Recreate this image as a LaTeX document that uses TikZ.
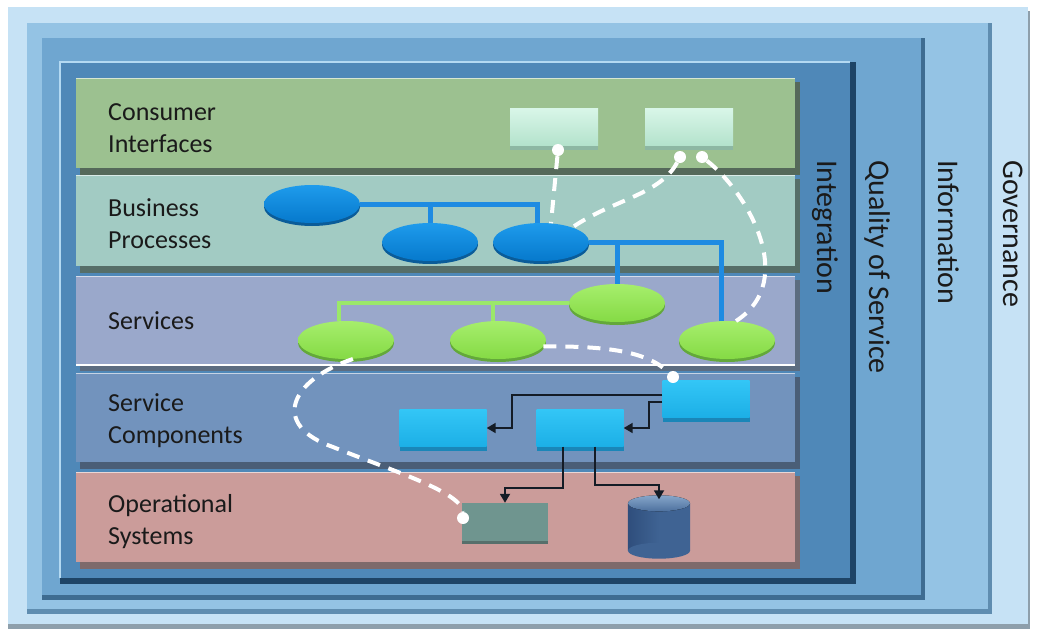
\documentclass[tikz,border=0pt]{standalone}
\usepackage{fontspec}
\setmainfont{Carlito}
\usetikzlibrary{shapes.geometric,arrows.meta,shadows}

\definecolor{govfill}{HTML}{C6E2F5}
\definecolor{govshd}{HTML}{8E9FAB}
\definecolor{inffill}{HTML}{94C3E4}
\definecolor{infshd}{HTML}{5F8DB0}
\definecolor{qosfill}{HTML}{6FA6D0}
\definecolor{qosshd}{HTML}{3E6C91}
\definecolor{intfill}{HTML}{4F88B8}
\definecolor{intshd}{HTML}{1E4466}
\definecolor{intlight}{HTML}{B3D9F2}
\definecolor{ciband}{HTML}{9CC190}
\definecolor{cishd}{HTML}{55695A}
\definecolor{bpband}{HTML}{A2CBC3}
\definecolor{bpshd}{HTML}{566E68}
\definecolor{svband}{HTML}{9AA8CB}
\definecolor{svshd}{HTML}{5C6C80}
\definecolor{scband}{HTML}{7293BD}
\definecolor{scshd}{HTML}{4A5E77}
\definecolor{osband}{HTML}{CB9C9A}
\definecolor{osshd}{HTML}{7E6A6B}
\definecolor{labeltxt}{HTML}{1A1A1A}
\definecolor{uitop}{HTML}{D8F6E8}
\definecolor{uibot}{HTML}{B4E2CC}
\definecolor{uishd}{HTML}{8DB7A3}
\definecolor{bptop}{HTML}{1E9BEC}
\definecolor{bpbot}{HTML}{0679CC}
\definecolor{bpdark}{HTML}{0A5C99}
\definecolor{bpline}{HTML}{1E8BE2}
\definecolor{svtop}{HTML}{A6EE6C}
\definecolor{svbot}{HTML}{85DA45}
\definecolor{svdark}{HTML}{63A83A}
\definecolor{svline}{HTML}{9BE86A}
\definecolor{sctop}{HTML}{33C6F6}
\definecolor{scbot}{HTML}{1CAFE6}
\definecolor{scdark}{HTML}{1A86B8}
\definecolor{osbox}{HTML}{6F958F}
\definecolor{osdark}{HTML}{566F6B}
\definecolor{dbbody}{HTML}{3F6393}
\definecolor{dbside}{HTML}{2F4E7C}
\definecolor{dbtop}{HTML}{86A6CA}
\definecolor{flowline}{HTML}{141C26}

\begin{document}
\begin{tikzpicture}[x=1pt,y=-1pt,
  bandlabel/.style={anchor=west,align=left,inner sep=0pt,text=labeltxt,font=\fontsize{26}{32}\selectfont},
  sidelabel/.style={anchor=base west,rotate=-90,inner sep=0pt,text=labeltxt,font=\fontsize{30}{36}\selectfont},
  uibox/.style={rectangle,minimum width=88pt,minimum height=37pt,top color=uitop,bottom color=uibot,
    drop shadow={shadow xshift=0pt,shadow yshift=-4pt,fill=uishd,opacity=1}},
  bpnode/.style={ellipse,minimum width=96pt,minimum height=38pt,top color=bptop,bottom color=bpbot,
    drop shadow={shadow xshift=0pt,shadow yshift=-3pt,fill=bpdark,opacity=1}},
  svnode/.style={ellipse,minimum width=96pt,minimum height=38pt,top color=svtop,bottom color=svbot,
    drop shadow={shadow xshift=0pt,shadow yshift=-3pt,fill=svdark,opacity=1}},
  scbox/.style={rectangle,minimum width=87pt,minimum height=37pt,top color=sctop,bottom color=scbot,
    drop shadow={shadow xshift=0pt,shadow yshift=-4pt,fill=scdark,opacity=1}},
  osnode/.style={rectangle,minimum width=86pt,minimum height=38pt,fill=osbox,
    drop shadow={shadow xshift=0pt,shadow yshift=-3pt,fill=osdark,opacity=1}},
  dbnode/.style={rectangle,minimum width=62pt,minimum height=63pt,inner sep=0pt},
  plug/.style={circle,fill=white,minimum size=12pt,inner sep=0pt},
  trace/.style={white,line width=4pt,dash pattern=on 13pt off 9pt},
  flow/.style={flowline,line width=1.8pt,-{Triangle[length=9pt,width=10pt]}}]

  \useasboundingbox (0,0) rectangle (1038,629);

  % nested frames: governance, information, quality of service, integration
  \fill[govshd] (8,11) rectangle (1030,629);
  \fill[govfill] (8,7) rectangle (1028,624);
  \fill[infshd] (27,23) rectangle (992,614);
  \fill[inffill] (27,23) rectangle (988,609);
  \fill[qosshd] (42,38) rectangle (925,600);
  \fill[qosfill] (42,38) rectangle (921,595);
  \fill[intshd] (60,62) rectangle (856,584);
  \fill[intfill] (60,62) rectangle (850,578);
  \draw[intlight,line width=2pt] (60,578) -- (60,62) -- (850,62);

  % layers
  \foreach \ytop/\ybot/\col/\shd in {78/168/ciband/cishd,175/266/bpband/bpshd,276/364/svband/svshd,373/462/scband/scshd,472/562/osband/osshd}{
    \fill[\shd] (80,\ytop+4) rectangle (800,\ybot+7);
    \fill[\col] (76,\ytop) rectangle (795,\ybot);
    \draw[white,opacity=.6,line width=1pt] (76,\ytop) -- (795,\ytop);
  }
  \draw[white,line width=1.5pt] (76,365) -- (795,365);

  \foreach \txt/\y/\id in {{Consumer\\Interfaces}/128/ci,{Business\\Processes}/224/bp,{Services}/321/sv,{Service\\Components}/421/sc,{Operational\\Systems}/522/os}
    \node[bandlabel] (lab\id) at (108,\y) {\txt};

  \node[sidelabel] (labint) at (817,160) {Integration};
  \node[sidelabel] (labqos) at (869,160) {Quality of Service};
  \node[sidelabel] (labinf) at (938,160) {Information};
  \node[sidelabel] (labgov) at (1003,160) {Governance};

  % consumer interfaces
  \node[uibox] (ui1) at (554,127) {};
  \node[uibox] (ui2) at (689,127) {};

  % business processes
  \node[bpnode] (bp1) at (312,204) {};
  \node[bpnode] (bp2) at (430,242) {};
  \node[bpnode] (bp3) at (541,242) {};

  % services
  \node[svnode] (s1) at (346,340) {};
  \node[svnode] (s2) at (498,340) {};
  \node[svnode] (s3) at (617,303) {};
  \node[svnode] (s4) at (727,340) {};

  \draw[bpline,line width=5pt] (bp1.east) -| ([xshift=-4pt]bp3.north);
  \draw[bpline,line width=5pt] (bp2.north) |- (bp1.east);
  \draw[bpline,line width=5pt] (bp3.east) -| ([xshift=-6pt]s4.north);
  \draw[bpline,line width=5pt] (s3.north) |- (bp3.east);
  \draw[svline,line width=4pt] (s3.west) -| ([xshift=-7pt]s1.north);
  \draw[svline,line width=4pt] ([xshift=-5pt]s2.north) |- (s3.west);

  % service components
  \node[scbox] (c1) at (706,399) {};
  \node[scbox] (c2) at (443,428) {};
  \node[scbox] (c3) at (580,428) {};

  % operational systems
  \node[osnode] (os) at (505,522) {};
  \node[dbnode] (db) at (659,527) {};
  \fill[left color=dbside,right color=dbbody,middle color=dbbody] ([yshift=-8pt]db.north west) rectangle ([yshift=8pt]db.south east);
  \fill[dbbody] ([yshift=8pt]db.south) ellipse [x radius=31pt,y radius=8pt];
  \fill[top color=dbtop,bottom color=dbbody!80!dbtop] ([yshift=-8pt]db.north) ellipse [x radius=31pt,y radius=8pt];

  \draw[flow] ([yshift=4pt]c1.west) -| ([xshift=25pt]c2.east) |- (c2.east);
  \draw[flow] ([yshift=-3pt]c1.west) -| ([xshift=25pt]c3.east) |- (c3.east);
  \draw[flow] ([xshift=-17pt]c3.south) |- ([yshift=15pt]os.north) -- (os.north);
  \draw[flow] ([xshift=15pt]c3.south) |- ([yshift=10pt]db.north) -- ([yshift=-4pt]db.north);

  % dashed traces
  \node[plug] (p1) at (558,150) {};
  \node[plug] (p2) at (680,157) {};
  \node[plug] (p3) at (702,157) {};
  \node[plug] (p4) at (673,377) {};
  \node[plug] (p5) at (463,518) {};

  \draw[trace] (p1) -- (bp3.62);
  \draw[trace] (p2) .. controls (660,195) and (612,200) .. (bp3.25);
  \draw[trace] (p3) .. controls (745,190) and (800,280) .. (s4.65);
  \draw[trace] (s2.-8) .. controls (610,346) and (648,352) .. (p4);
  \draw[trace] (s1.-70) .. controls (290,380) and (270,425) .. (333,447)
    .. controls (390,470) and (462,492) .. (p5);
\end{tikzpicture}
\end{document}
